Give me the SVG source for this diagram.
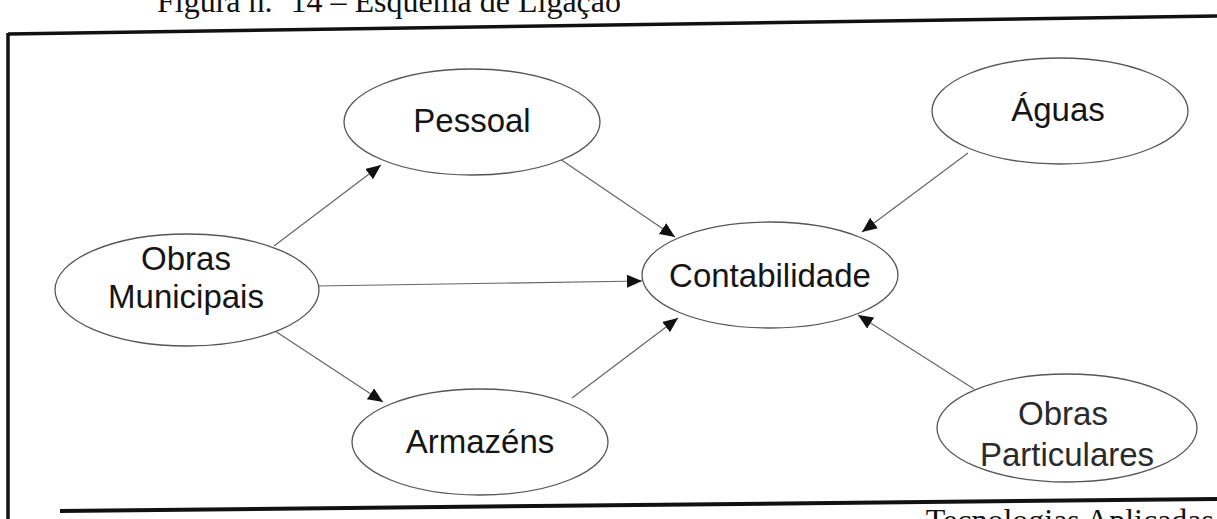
<svg xmlns="http://www.w3.org/2000/svg" width="1217" height="519" viewBox="0 0 1217 519">
<style>
.node ellipse{fill:#fff;stroke:#555;stroke-width:1.3}
.node text{font-family:"Liberation Sans",Arial,sans-serif;font-size:33px;fill:#151515;text-anchor:middle}
.conn line{stroke:#666;stroke-width:1.2;marker-end:url(#arr)}
.frame{stroke:#111;fill:none}
.cap{font-family:"Liberation Serif","Times New Roman",serif;font-size:32px;fill:#111}
</style>
<defs>
<marker id="arr" markerUnits="userSpaceOnUse" markerWidth="16" markerHeight="14" refX="15" refY="6.5" orient="auto">
<path d="M0,0 L15,6.5 L0,13 z" fill="#111"/>
</marker>
</defs>
<rect width="1217" height="519" fill="#fff"/>
<text class="cap" x="157" y="12">Figura n.º 14 – Esquema de Ligação</text>
<g id="frame">
<line class="frame" x1="8" y1="34" x2="1217" y2="16" stroke-width="3.5"/>
<line class="frame" x1="8" y1="33" x2="8" y2="519" stroke-width="3.5"/>
<line class="frame" x1="60" y1="511" x2="1217" y2="499" stroke-width="4"/>
</g>
<text class="cap" x="1214" y="531" text-anchor="end" font-size="28">Tecnologias Aplicadas</text>
<g class="conn" id="connectors">
<line x1="274" y1="246" x2="381" y2="165"/>
<line x1="560" y1="159" x2="675" y2="237"/>
<line x1="316" y1="286" x2="642" y2="281"/>
<line x1="272" y1="329" x2="383" y2="402"/>
<line x1="572" y1="398" x2="678" y2="318"/>
<line x1="968" y1="153" x2="862" y2="232"/>
<line x1="974" y1="389" x2="858" y2="315"/>
</g>
<g class="node" id="pessoal"><ellipse cx="472" cy="122" rx="128" ry="53"/><text x="472" y="132">Pessoal</text></g>
<g class="node" id="contabilidade"><ellipse cx="770" cy="275" rx="128" ry="53"/><text x="770" y="287">Contabilidade</text></g>
<g class="node" id="aguas"><ellipse cx="1060" cy="111" rx="128" ry="53"/><text x="1058" y="121">Águas</text></g>
<g class="node" id="obras-municipais"><ellipse cx="187" cy="290" rx="132" ry="56"/><text x="186" y="270">Obras</text><text x="186" y="308">Municipais</text></g>
<g class="node" id="armazens"><ellipse cx="480" cy="442" rx="128" ry="53"/><text x="480" y="453">Armazéns</text></g>
<g class="node" id="obras-particulares"><ellipse cx="1067" cy="428" rx="130" ry="54"/><text x="1063" y="425" style="fill:#2a2a2a">Obras</text><text x="1067" y="466" style="fill:#2a2a2a">Particulares</text></g>
</svg>
